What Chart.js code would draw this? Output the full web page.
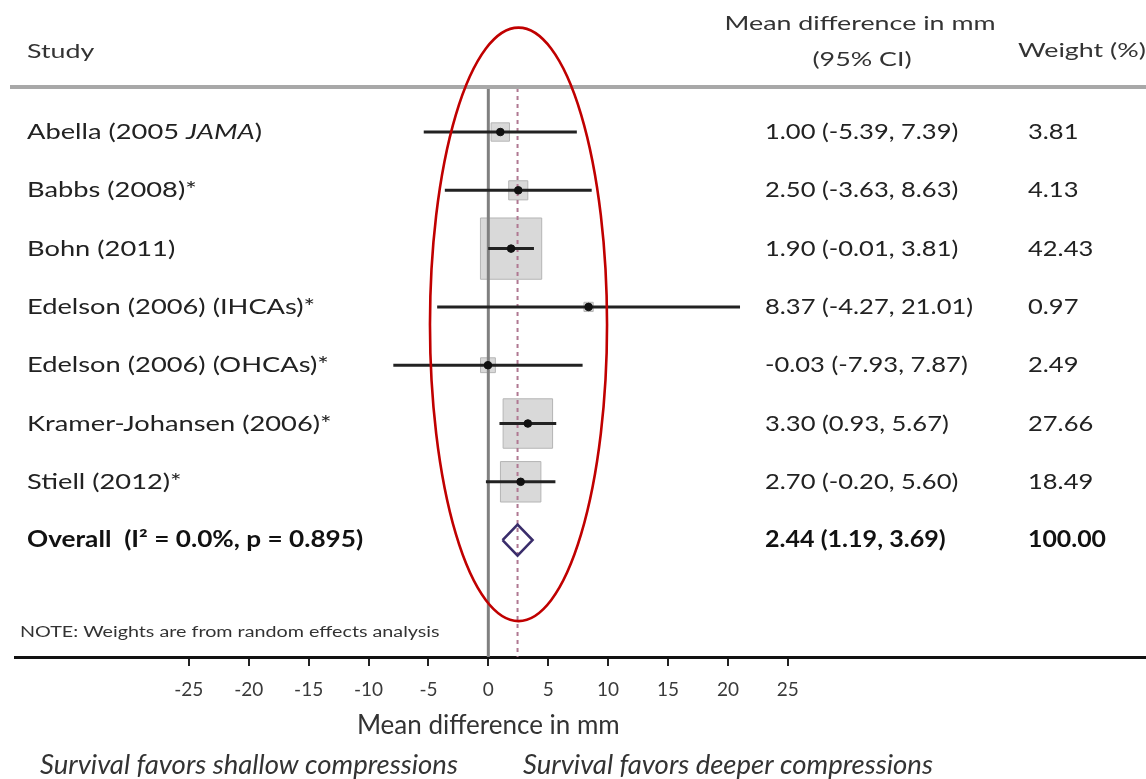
<!DOCTYPE html>
<html><head><meta charset="utf-8">
<script src="https://cdn.jsdelivr.net/npm/chart.js@4.4.1/dist/chart.umd.min.js"></script>
<style>html,body{margin:0;padding:0;background:#fff;}canvas{display:block;}</style>
</head><body>
<canvas id="c" width="1146" height="779"></canvas>
<script>
// ---- data ----
const studyLabels = ["Abella (2005 _JAMA_)", "Babbs (2008)*", "Bohn (2011)", "Edelson (2006) (IHCAs)*",
  "Edelson (2006) (OHCAs)*", "Kramer-Johansen (2006)*", "Stiell (2012)*"];
const estimates = [1.00, 2.50, 1.90, 8.37, -0.03, 3.30, 2.70];
const lowerCI = [-5.39, -3.63, -0.01, -4.27, -7.93, 0.93, -0.20];
const upperCI = [7.39, 8.63, 3.81, 21.01, 7.87, 5.67, 5.60];
const weights = [3.81, 4.13, 42.43, 0.97, 2.49, 27.66, 18.49];
const overallLabel = "Overall  (I\u00B2 = 0.0%, p = 0.895)";
const overallEst = 2.44, overallLo = 1.19, overallHi = 3.69, overallWeight = 100.00;
const xTicks = [-25, -20, -15, -10, -5, 0, 5, 10, 15, 20, 25];
const xTitle = "Mean difference in mm";
const favorLeft = "Survival favors shallow compressions";
const favorRight = "Survival favors deeper compressions";
const noteText = "NOTE: Weights are from random effects analysis";
const headStudy = "Study", headCI1 = "Mean difference in mm", headCI2 = "(95% CI)", headW = "Weight (%)";
// annotation ellipse (data coordinates: x in mm, y in rows)
const ellipseNote = {cx: 2.52, cy: 3.30, rx: 7.39, ry: 5.09};

// ---- layout ----
const yMin = -0.755, yMax = 9.005;
const xMin = -39.51, xMax = 54.90;
const FONT = "Lato";
const diamondHalf = 0.265;

const ciDatasets = studyLabels.map((s, i) => ({
  type: 'line', data: [{x: lowerCI[i], y: i}, {x: upperCI[i], y: i}],
  borderColor: '#222222', borderWidth: 3, pointRadius: 0, order: 3
}));
const oi = studyLabels.length;

function drawText(ctx, runs, x, y, align, size, color, stretch) {
  ctx.save();
  ctx.fillStyle = color || '#222';
  ctx.textBaseline = 'middle';
  ctx.textAlign = 'left';
  const fontOf = r => `${r.italic ? 'italic ' : ''}${r.bold ? 'bold ' : ''}${size}px ${FONT}`;
  let total = 0;
  runs.forEach(r => { ctx.font = fontOf(r); r.w = ctx.measureText(r.t).width; total += r.w; });
  let sx = x;
  if (align === 'center') sx = x - total * stretch / 2;
  ctx.translate(sx, y);
  ctx.scale(stretch, 1);
  let cx = 0;
  runs.forEach(r => { ctx.font = fontOf(r); ctx.fillText(r.t, cx, 0); cx += r.w; });
  ctx.restore();
}
function parseRuns(str, bold) {
  return str.split('_').map((t, k) => ({t, italic: k % 2 === 1, bold})).filter(r => r.t.length);
}

const textPlugin = {
  id: 'forestText',
  afterDraw(chart) {
    const ctx = chart.ctx, xs = chart.scales.x, ys = chart.scales.y, ca = chart.chartArea;
    ctx.save();
    ctx.strokeStyle = '#a8a8a8'; ctx.lineWidth = 4;
    ctx.beginPath(); ctx.moveTo(10, ca.top - 1); ctx.lineTo(1146, ca.top - 1); ctx.stroke();
    ctx.restore();
    drawText(ctx, [{t: headStudy}], 27, 52, 'left', 20, '#333', 1.34);
    drawText(ctx, [{t: headCI1}], 860, 24, 'center', 20, '#333', 1.34);
    drawText(ctx, [{t: headCI2}], 862, 60, 'center', 20, '#333', 1.34);
    drawText(ctx, [{t: headW}], 1018, 51, 'left', 20, '#333', 1.34);
    studyLabels.forEach((s, i) => {
      const y = ys.getPixelForValue(i);
      drawText(ctx, parseRuns(s, false), 27, y, 'left', 22, '#222', 1.24);
      drawText(ctx, [{t: `${estimates[i].toFixed(2)} (${lowerCI[i].toFixed(2)}, ${upperCI[i].toFixed(2)})`}], 765, y, 'left', 22, '#222', 1.16);
      drawText(ctx, [{t: weights[i].toFixed(2)}], 1028, y, 'left', 22, '#222', 1.16);
    });
    const yo = ys.getPixelForValue(oi);
    drawText(ctx, [{t: overallLabel, bold: true}], 27, yo, 'left', 22, '#111', 1.19);
    drawText(ctx, [{t: `${overallEst.toFixed(2)} (${overallLo.toFixed(2)}, ${overallHi.toFixed(2)})`, bold: true}], 765, yo, 'left', 22, '#111', 1.14);
    drawText(ctx, [{t: overallWeight.toFixed(2), bold: true}], 1028, yo, 'left', 22, '#111', 1.13);
    drawText(ctx, [{t: noteText}], 20, 632, 'left', 14.5, '#333', 1.36);
    ctx.save();
    ctx.fillStyle = '#333'; ctx.textBaseline = 'middle'; ctx.textAlign = 'center';
    ctx.font = `26px ${FONT}`;
    ctx.fillText(xTitle, xs.getPixelForValue(0), 726);
    ctx.font = `italic 27.5px ${FONT}`;
    ctx.textAlign = 'left';
    ctx.fillText(favorLeft, 40, 765);
    ctx.fillText(favorRight, 523, 765);
    ctx.restore();
    const ecx = xs.getPixelForValue(ellipseNote.cx), ecy = ys.getPixelForValue(ellipseNote.cy);
    const erx = Math.abs(xs.getPixelForValue(ellipseNote.cx + ellipseNote.rx) - ecx);
    const ery = Math.abs(ys.getPixelForValue(ellipseNote.cy + ellipseNote.ry) - ecy);
    ctx.save();
    ctx.strokeStyle = '#c00000'; ctx.lineWidth = 2.6;
    ctx.beginPath(); ctx.ellipse(ecx, ecy, erx, ery, 0, 0, Math.PI * 2); ctx.stroke();
    ctx.restore();
  }
};

new Chart(document.getElementById('c'), {
  type: 'scatter',
  data: {
    datasets: [
      { label: 'weights', data: estimates.map((e, i) => ({x: e, y: i})), pointStyle: 'rect',
        pointRadius: c => 6.65 * Math.sqrt(weights[c.dataIndex]),
        backgroundColor: '#d9d9d9', borderColor: '#b5b5b5', borderWidth: 1, order: 6 },
      { type: 'line', label: 'null', data: [{x: 0, y: yMin}, {x: 0, y: yMax}],
        borderColor: '#808080', borderWidth: 3, pointRadius: 0, order: 5 },
      { type: 'line', label: 'overall', data: [{x: overallEst, y: yMin}, {x: overallEst, y: yMax}],
        borderColor: '#b07892', borderWidth: 2, borderDash: [4, 4], pointRadius: 0, order: 4 },
      ...ciDatasets,
      { type: 'line', label: 'diamond', data: [
          {x: overallLo, y: oi}, {x: overallEst, y: oi - diamondHalf}, {x: overallHi, y: oi},
          {x: overallEst, y: oi + diamondHalf}, {x: overallLo, y: oi}],
        borderColor: '#3a2d6b', borderWidth: 2.6, backgroundColor: '#ffffff', fill: true,
        pointRadius: 0, tension: 0, order: 2 },
      { label: 'estimates', data: estimates.map((e, i) => ({x: e, y: i})),
        pointRadius: 3.8, backgroundColor: '#111', borderColor: '#111', order: 1 }
    ]
  },
  options: {
    responsive: false, devicePixelRatio: 1, animation: false,
    layout: { autoPadding: false, padding: { top: 88, left: 15, right: 0, bottom: 0 } },
    plugins: { legend: { display: false }, tooltip: { enabled: false } },
    scales: {
      x: {
        type: 'linear', min: xMin, max: xMax,
        afterBuildTicks: s => { s.ticks = xTicks.map(v => ({value: v})); },
        afterFit: s => { s.height = 122; s.paddingLeft = 0; s.paddingRight = 0; },
        grid: { drawOnChartArea: false, drawTicks: true, tickLength: 9, color: '#222', lineWidth: 2 },
        border: { display: true, color: '#111', width: 3 },
        ticks: { font: { family: FONT, size: 19 }, color: '#3a3a3a', padding: 12, maxRotation: 0, autoSkip: false }
      },
      y: { type: 'linear', min: yMin, max: yMax, reverse: true, display: false }
    }
  },
  plugins: [textPlugin]
});
</script>
</body></html>
